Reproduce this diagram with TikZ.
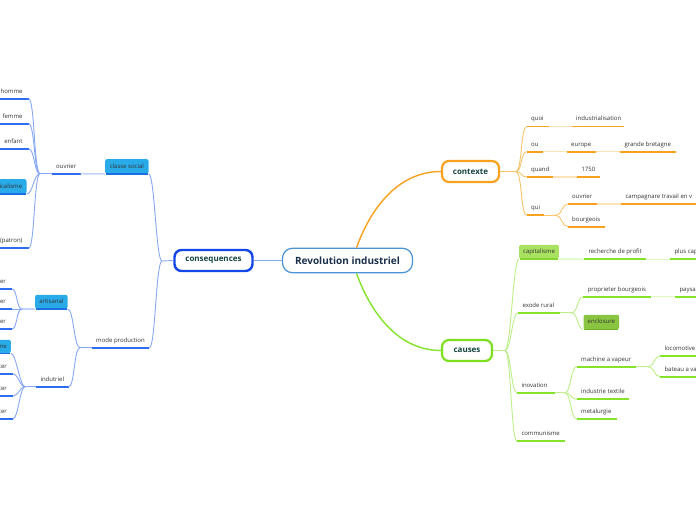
\documentclass[tikz,border=0pt]{standalone}
\usepackage{fontspec}
\setmainfont{Open Sans}
\definecolor{orU}{HTML}{F7A11E}
\definecolor{orC}{HTML}{F9C46A}
\definecolor{orP}{HTML}{FDE3B8}
\definecolor{grU}{HTML}{84E42B}
\definecolor{grC}{HTML}{BDEF88}
\definecolor{grP}{HTML}{DDF8C0}
\definecolor{grB}{HTML}{7CE01E}
\definecolor{capF}{HTML}{A9E160}
\definecolor{capB}{HTML}{84D62A}
\definecolor{encF}{HTML}{8AC542}
\definecolor{encB}{HTML}{6FAF2A}
\definecolor{blU}{HTML}{2F6DF0}
\definecolor{blC}{HTML}{86A8F5}
\definecolor{blP}{HTML}{C2D3FB}
\definecolor{conB}{HTML}{1446E8}
\definecolor{boxF}{HTML}{29AAE9}
\definecolor{boxB}{HTML}{1C6FE3}
\definecolor{cenB}{HTML}{4A93D6}
\definecolor{cenT}{HTML}{1B2F4E}
\definecolor{mainT}{HTML}{154540}
\definecolor{txtC}{HTML}{333333}
\tikzset{
  tn/.style={font=\fontsize{6}{7.2}\selectfont, text=txtC, inner xsep=4.3pt, inner ysep=4.2pt, text height=4.5pt, text depth=1.3pt},
  ul/.style={line width=1.8pt},
  cv/.style={line width=0.9pt},
  pl/.style={line width=1.5pt},
  bx/.style={font=\fontsize{6}{7.2}\selectfont, text=txtC, rounded corners=2pt, inner sep=0pt, text height=4.5pt, text depth=1.3pt},
  mainbox/.style={font=\fontsize{8}{9}\selectfont\bfseries, text=mainT, fill=white, rounded corners=7pt, line width=2.2pt, inner sep=0pt}
}
\newcommand\RT[6]{%
  \node[tn, anchor=south west] (#1) at (#2,#4) {\makebox[\dimexpr #3pt-#2pt-8.6pt\relax][l]{#6}};
  \draw[ul, #5] (#1.south west) -- (#1.south east);}
\newcommand\LT[5]{%
  \node[tn, anchor=south west] (#1) at (#2,#4) {\makebox[\dimexpr #3pt-#2pt-8.6pt\relax][r]{#5\hspace*{1.7pt}}};
  \draw[ul, blU] (#1.south west) -- (#1.south east);}
\begin{document}
\begin{tikzpicture}[x=1pt,y=-1pt]
\useasboundingbox[fill=white] (0,0) rectangle (696,520);

% ---------- main nodes ----------
\node[draw=cenB, fill=white, rounded corners=10pt, line width=1.2pt, minimum width=130pt, minimum height=24.5pt, font=\fontsize{10}{12}\selectfont\bfseries, text=cenT] (central) at (347.5,260.5) {Revolution industriel};
\node[mainbox, draw=orU, minimum width=57pt, minimum height=21pt] (contexte) at (470.5,171.5) {contexte};
\node[mainbox, draw=grB, minimum width=50pt, minimum height=21pt] (causes) at (467,350.5) {causes};
\node[mainbox, draw=conB, line width=2.4pt, minimum width=78pt, minimum height=21pt] (consequences) at (213.5,260.5) {consequences};

\draw[orU, line width=1.4pt] ([xshift=9pt]central.north) .. controls (372,205) and (400,171.5) .. (contexte.west);
\draw[grU, line width=1.4pt] ([xshift=9pt]central.south) .. controls (372,316) and (400,350.5) .. (causes.west);
\draw[blC, line width=1.2pt] (central.west) -- (consequences.east);

% ---------- contexte ----------
\RT{quoi}{526.7}{548.3}{126.5}{orU}{quoi}
\RT{indus}{571.7}{624}{126.5}{orU}{industrialisation}
\RT{ou}{526.7}{542.7}{151.7}{orU}{ou}
\RT{europe}{566.7}{595.7}{151.7}{orU}{europe}
\RT{gbret}{620}{675.6}{151.7}{orU}{grande bretagne}
\RT{quand}{526.7}{553}{177}{orU}{quand}
\RT{annee}{577}{600}{177}{orU}{1750}
\RT{qui}{526.7}{543.3}{215.3}{orU}{qui}
\RT{ouvR}{567.7}{596.7}{204}{orU}{ouvrier}
\RT{camp}{621}{710}{204}{orU}{campagnare travail en v}
\RT{bourg}{567.7}{605}{226.7}{orU}{bourgeois}

\coordinate (cb) at (516,171.5);
\draw[orC, cv] (contexte.east) -- (cb);
\foreach \n in {quoi,ou,quand,qui} \draw[orC, cv] (cb) .. controls +(6,0) and +(-6,0) .. (\n.south west);
\draw[orP, pl] (quoi.south east) -- (indus.south west);
\draw[orP, pl] (ou.south east) -- (europe.south west);
\draw[orP, pl] (europe.south east) -- (gbret.south west);
\draw[orP, pl] (quand.south east) -- (annee.south west);
\draw[orP, pl] (ouvR.south east) -- (camp.south west);
\coordinate (qb) at (556,215.3);
\draw[orC, cv] (qui.south east) -- (qb);
\foreach \n in {ouvR,bourg} \draw[orC, cv] (qb) .. controls +(6,0) and +(-6,0) .. (\n.south west);

% ---------- causes ----------
\node[bx, fill=capF, minimum width=39.7pt, minimum height=14pt, anchor=south west] (capit) at (519,259) {capitalisme};
\draw[capB, line width=1.2pt] ([xshift=1pt]capit.south west) -- ([xshift=-1pt]capit.south east);
\RT{rech}{584}{645.7}{259.3}{grU}{recherche de profit}
\RT{pluscap}{670}{710}{259.3}{grU}{plus cap}
\RT{exode}{518}{560}{312.7}{grU}{exode rural}
\RT{prop}{583.3}{650.7}{296.7}{grU}{proprieter bourgeois}
\RT{pays}{675}{710}{296.7}{grU}{paysa}
\node[bx, fill=encF, minimum width=35.7pt, minimum height=14.3pt, anchor=south west] (enclos) at (583.3,329.3) {enclosure};
\draw[encB, line width=1.2pt] ([xshift=1pt]enclos.south west) -- ([xshift=-1pt]enclos.south east);
\RT{inov}{517}{555}{392.7}{grU}{inovation}
\RT{comm}{517}{565}{441.3}{grU}{communisme}
\RT{mav}{576.7}{636}{366.7}{grU}{machine a vapeur}
\RT{indt}{576.7}{629}{399.3}{grU}{industrie textile}
\RT{meta}{576.7}{616.7}{419.3}{grU}{metalurgie}
\RT{loco}{660}{710}{356}{grU}{locomotive}
\RT{bat}{660}{710}{376.7}{grU}{bateau a va}

\coordinate (kb) at (505,350.5);
\draw[grC, cv] (causes.east) -- (kb);
\foreach \n in {capit,exode,inov,comm} \draw[grC, cv] (kb) .. controls +(6,0) and +(-6,0) .. (\n.south west);
\draw[grP, pl] (capit.south east) -- (rech.south west);
\draw[grP, pl] (rech.south east) -- (pluscap.south west);
\draw[grP, pl] (prop.south east) -- (pays.south west);
\coordinate (eb) at (571.7,312.7);
\draw[grC, cv] (exode.south east) -- (eb);
\foreach \n in {prop,enclos} \draw[grC, cv] (eb) .. controls +(6,0) and +(-6,0) .. (\n.south west);
\coordinate (ib) at (565,392.7);
\draw[grC, cv] (inov.south east) -- (ib);
\foreach \n in {mav,indt,meta} \draw[grC, cv] (ib) .. controls +(6,0) and +(-6,0) .. (\n.south west);
\coordinate (mb) at (648.3,366.7);
\draw[grC, cv] (mav.south east) -- (mb);
\foreach \n in {loco,bat} \draw[grC, cv] (mb) .. controls +(6,0) and +(-6,0) .. (\n.south west);

% ---------- consequences ----------
\coordinate (sb) at (162,261);
\draw[blC, cv] (consequences.west) -- (sb);
\node[bx, fill=boxF, minimum width=43.3pt, minimum height=14.7pt, anchor=south west] (classe) at (105,174) {classe social};
\draw[boxB, line width=1.2pt] ([xshift=1pt]classe.south west) -- ([xshift=-1pt]classe.south east);
\RT{mode}{91.7}{149}{347.7}{blU}{mode production}
\draw[blC, cv] (sb) .. controls +(-6,0) and +(6,0) .. (classe.south east);
\draw[blC, cv] (sb) .. controls +(-6,0) and +(6,0) .. (mode.south east);

\RT{ouvL}{51.7}{80.3}{173.7}{blU}{ouvrier}
\draw[blP, pl] (ouvL.south east) -- (classe.south west);
\coordinate (ob) at (40,173.7);
\draw[blC, cv] (ouvL.south west) -- (ob);
\LT{homme}{-15}{28.3}{98.7}{homme}
\LT{femme}{-15}{28.3}{123.7}{femme}
\LT{enfant}{-15}{28.3}{149}{enfant}
\node[bx, fill=boxF, minimum width=46.7pt, minimum height=14.7pt, anchor=south east] (syndic) at (26.7,194) {\makebox[38pt][r]{icalisme}};
\draw[boxB, line width=1.2pt] (syndic.south west) -- ([xshift=-1pt]syndic.south east);
\LT{patron}{-15}{28.3}{248.3}{(patron)}
\foreach \n in {homme,femme,enfant,syndic,patron} \draw[blC, cv] (ob) .. controls +(-6,0) and +(6,0) .. (\n.south east);

\node[bx, fill=boxF, minimum width=32.3pt, minimum height=14pt, anchor=south west] (artis) at (35,309) {artisanal};
\draw[boxB, line width=1.2pt] ([xshift=1pt]artis.south west) -- ([xshift=-1pt]artis.south east);
\RT{indut}{36}{68.3}{386.7}{blU}{indutriel}
\coordinate (mdb) at (80,347.7);
\draw[blC, cv] (mode.south west) -- (mdb);
\draw[blC, cv] (mdb) .. controls +(-6,0) and +(6,0) .. (artis.south east);
\draw[blC, cv] (mdb) .. controls +(-6,0) and +(6,0) .. (indut.south east);

\coordinate (ab) at (21.7,309);
\draw[blP, pl] (artis.south west) -- (ab);
\LT{erA}{-15}{11.7}{289}{er}
\LT{erB}{-15}{11.7}{309}{er}
\LT{erC}{-15}{11.7}{329}{er}
\foreach \n in {erA,erB,erC} \draw[blC, cv] (ab) .. controls +(-5,0) and +(5,0) .. (\n.south east);

\node[bx, fill=boxF, minimum width=30pt, minimum height=13.3pt, anchor=south east] (mebox) at (11,353.3) {\makebox[22pt][r]{me}};
\draw[boxB, line width=1.2pt] (mebox.south west) -- ([xshift=-1pt]mebox.south east);
\LT{terA}{-15}{12.7}{374}{ter}
\LT{terB}{-15}{12.7}{396}{ter}
\LT{terC}{-15}{12.7}{418.7}{ter}
\coordinate (idb) at (25,386.7);
\draw[blC, cv] (indut.south west) -- (idb);
\foreach \n in {mebox,terA,terB,terC} \draw[blC, cv] (idb) .. controls +(-5,0) and +(5,0) .. (\n.south east);
\end{tikzpicture}
\end{document}
